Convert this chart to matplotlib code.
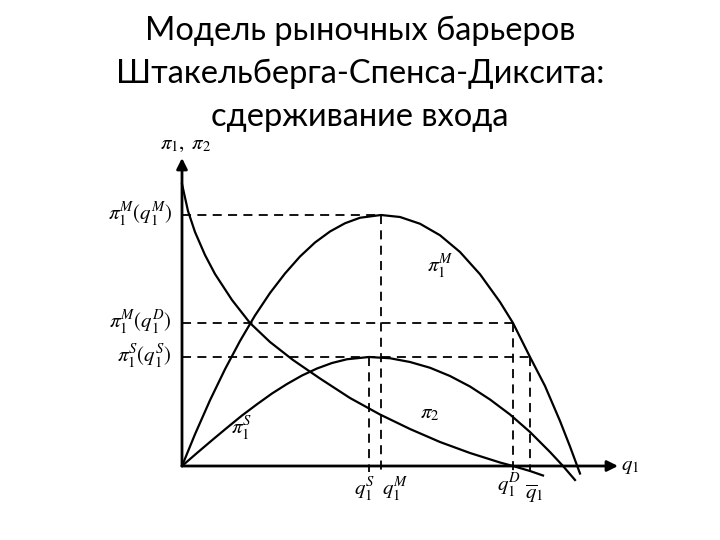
# Модель Штакельберга-Спенса-Диксита: кривые прибыли
import matplotlib
matplotlib.use("Agg")
import matplotlib.pyplot as plt

plt.rcParams["mathtext.fontset"] = "stix"

title_lines = ["Модель рыночных барьеров",
               "Штакельберга-Спенса-Диксита:",
               "сдерживание входа"]

# прибыль монополиста pi1^M (q1)
qM_curve = [0, 0.325, 0.7, 1.075, 1.45, 1.825, 2.2, 2.575, 2.95, 3.325, 3.7, 4.075,
            4.45, 4.975, 5.45, 5.95, 6.45, 6.95, 7.45, 7.95, 8.275, 8.7, 9.075,
            9.45, 9.7, 9.95]
piM_curve = [0, 1.27, 2.63, 3.87, 5.0, 6.02, 6.92, 7.7, 8.38, 8.94, 9.38, 9.71,
             9.93, 10.04, 9.96, 9.69, 9.23, 8.56, 7.67, 6.56, 5.72, 4.36, 3.2,
             1.8, 0.78, -0.3]

# прибыль лидера по Штакельбергу pi1^S (q1)
qS_curve = [0, 0.375, 0.75, 1.125, 1.5, 1.875, 2.25, 2.625, 3.0, 3.375, 3.75, 4.125,
            4.675, 5.2, 5.7, 6.2, 6.7, 7.2, 7.7, 8.2, 8.7, 9.2, 9.525, 9.825]
piS_curve = [0, 0.52, 1.03, 1.53, 2.02, 2.47, 2.9, 3.28, 3.62, 3.9, 4.12, 4.27,
             4.36, 4.31, 4.16, 3.93, 3.6, 3.18, 2.66, 2.06, 1.36, 0.56, 0, -0.56]

# прибыль входящей фирмы pi2 (q1)
q2_curve = [0, 0.15, 0.325, 0.575, 0.825, 1.25, 1.7, 2.2, 2.775, 3.45, 4.2, 4.95,
            5.7, 6.45, 7.2, 7.95, 8.275, 8.7, 9.025]
pi2_curve = [11.28, 10.2, 9.36, 8.44, 7.68, 6.64, 5.72, 4.96, 4.24, 3.5, 2.72, 2.06,
             1.48, 0.96, 0.52, 0.14, 0, -0.2, -0.38]

# характерные точки
q1_S, q1_M, q1_D, q1_bar = 4.675, 4.975, 8.275, 8.7
piM_qM, piM_qD, piS_qS = 10.04, 5.72, 4.36

fig = plt.figure(figsize=(7.2, 5.4), dpi=100)
# заголовок
for i, line in enumerate(title_lines):
    fig.text(0.5, 1 - (40 + 43 * i) / 540, line, ha="center", va="baseline",
             fontsize=23.5, family="Lato")

ax = fig.add_axes([100 / 720, 40 / 540, 540 / 720, 350 / 540])
ax.set_xlim(-2.05, 11.45)
ax.set_ylim(-1.36, 12.64)
ax.axis("off")

# оси со стрелками
arrow = dict(arrowstyle="-|>", lw=2, color="black", mutation_scale=16,
             shrinkA=0, shrinkB=0)
ax.annotate("", xy=(0, 12.32), xytext=(0, 0), arrowprops=arrow)
ax.annotate("", xy=(10.9, 0), xytext=(0, 0), arrowprops=arrow)

# кривые
ax.plot(qM_curve, piM_curve, color="black", lw=1.6)
ax.plot(qS_curve, piS_curve, color="black", lw=1.6)
ax.plot(q2_curve, pi2_curve, color="black", lw=1.6)

# пунктирные линии
dash = dict(color="black", lw=1.3, linestyle=(0, (5, 3.5)))
ax.plot([0, q1_M], [piM_qM, piM_qM], **dash)
ax.plot([q1_M, q1_M], [piM_qM, -0.25], **dash)
ax.plot([0, q1_D], [piM_qD, piM_qD], **dash)
ax.plot([q1_D, q1_D], [piM_qD, -0.2], **dash)
ax.plot([0, q1_bar], [piS_qS, piS_qS], **dash)
ax.plot([q1_bar, q1_bar], [piS_qS, -0.25], **dash)
ax.plot([q1_S, q1_S], [piS_qS, -0.25], **dash)

fs = 15
# подписи на оси ординат
ax.text(-0.25, piM_qM, r"$\pi_1^M(q_1^M)$", ha="right", va="center", fontsize=fs)
ax.text(-0.25, piM_qD, r"$\pi_1^M(q_1^D)$", ha="right", va="center", fontsize=fs)
ax.text(-0.25, piS_qS, r"$\pi_1^S(q_1^S)$", ha="right", va="center", fontsize=fs)

# подписи на оси абсцисс
ax.text(q1_S - 0.1, -0.4, r"$q_1^S$", ha="center", va="top", fontsize=fs)
ax.text(q1_M + 0.35, -0.4, r"$q_1^M$", ha="center", va="top", fontsize=fs)
ax.text(q1_D - 0.1, -0.25, r"$q_1^D$", ha="center", va="top", fontsize=fs)
ax.text(q1_bar + 0.1, -0.65, r"$\overline{q}_1$", ha="center", va="top", fontsize=fs)

# названия осей
ax.text(0.1, 12.9, r"$\pi_1,\ \pi_2$", ha="center", va="center", fontsize=fs)
ax.text(11.2, 0, r"$q_1$", ha="center", va="center", fontsize=fs)

# названия кривых
ax.text(6.45, 7.96, r"$\pi_1^M$", ha="center", va="center", fontsize=fs)
ax.text(6.2, 2.12, r"$\pi_2$", ha="center", va="center", fontsize=fs)
ax.text(1.5, 1.5, r"$\pi_1^S$", ha="center", va="center", fontsize=fs)

plt.savefig("out.png", dpi=100)
